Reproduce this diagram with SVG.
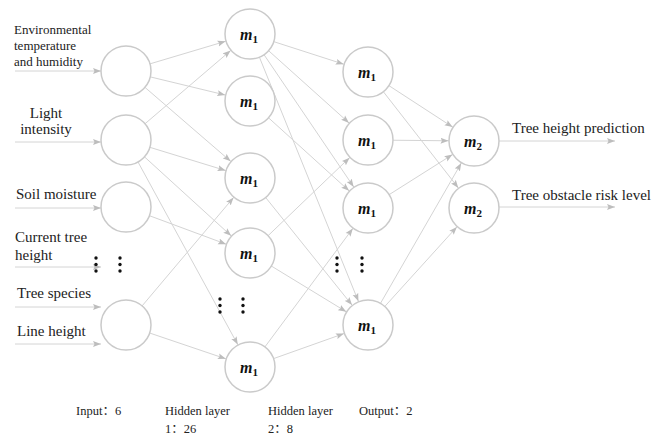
<svg xmlns="http://www.w3.org/2000/svg" width="653" height="436" viewBox="0 0 653 436">
<style>
.edge{stroke:#d4d4d4;stroke-width:1;fill:none;marker-end:url(#ah)}
.inarr{stroke:#d4d4d4;stroke-width:1;fill:none;marker-end:url(#ah0)}
.node{fill:#fff;stroke:#cacaca;stroke-width:1.5}
.lbl{font-family:"Liberation Serif","Noto Sans CJK SC",serif;font-size:15px;fill:#222}
.lbl13{font-family:"Liberation Serif","Noto Sans CJK SC",serif;font-size:13px;fill:#222}
.bot{font-family:"Liberation Serif","Noto Sans CJK SC",serif;font-size:12.5px;fill:#222}
.m{font-family:"Liberation Serif",serif;font-size:16px;font-weight:bold;font-style:italic;fill:#111}
.sub{font-size:11px;font-style:normal}
.dot{fill:#111}
</style>
<defs>
<marker id="ah" markerUnits="userSpaceOnUse" markerWidth="8" markerHeight="7" viewBox="0 0 8 7" refX="33.5" refY="3.5" orient="auto"><path d="M0,0.5 L8,3.5 L0,6.5 L1.5,3.5 z" fill="#bdbdbd"/></marker>
<marker id="ah0" markerUnits="userSpaceOnUse" markerWidth="8" markerHeight="7" viewBox="0 0 8 7" refX="8" refY="3.5" orient="auto"><path d="M0,0.5 L8,3.5 L0,6.5 L1.5,3.5 z" fill="#bdbdbd"/></marker>
</defs>
<g id="connectors">
<line class="inarr" x1="15" y1="71" x2="101" y2="71"/>
<line class="inarr" x1="15" y1="142" x2="101" y2="142"/>
<line class="inarr" x1="15" y1="208" x2="101" y2="208"/>
<line class="inarr" x1="15" y1="267" x2="101" y2="267"/>
<line class="inarr" x1="15" y1="307" x2="101" y2="307"/>
<line class="inarr" x1="15" y1="344" x2="101" y2="344"/>
<line class="edge" x1="126" y1="71" x2="250" y2="34"/>
<line class="edge" x1="126" y1="71" x2="250" y2="101"/>
<line class="edge" x1="126" y1="71" x2="250" y2="178"/>
<line class="edge" x1="126" y1="140" x2="250" y2="34"/>
<line class="edge" x1="126" y1="140" x2="250" y2="178"/>
<line class="edge" x1="126" y1="140" x2="250" y2="253"/>
<line class="edge" x1="126" y1="140" x2="250" y2="367"/>
<line class="edge" x1="126" y1="207" x2="250" y2="253"/>
<line class="edge" x1="126" y1="325" x2="250" y2="178"/>
<line class="edge" x1="126" y1="325" x2="250" y2="367"/>
<line class="edge" x1="250" y1="34" x2="368" y2="72"/>
<line class="edge" x1="250" y1="34" x2="368" y2="140"/>
<line class="edge" x1="250" y1="34" x2="368" y2="208"/>
<line class="edge" x1="250" y1="34" x2="368" y2="325"/>
<line class="edge" x1="250" y1="101" x2="368" y2="208"/>
<line class="edge" x1="250" y1="178" x2="368" y2="325"/>
<line class="edge" x1="250" y1="253" x2="368" y2="140"/>
<line class="edge" x1="250" y1="253" x2="368" y2="325"/>
<line class="edge" x1="250" y1="367" x2="368" y2="208"/>
<line class="edge" x1="250" y1="367" x2="368" y2="325"/>
<line class="edge" x1="368" y1="72" x2="474" y2="141"/>
<line class="edge" x1="368" y1="72" x2="474" y2="208"/>
<line class="edge" x1="368" y1="140" x2="474" y2="141"/>
<line class="edge" x1="368" y1="208" x2="474" y2="141"/>
<line class="edge" x1="368" y1="325" x2="474" y2="141"/>
<line class="edge" x1="368" y1="325" x2="474" y2="208"/>
<line class="inarr" x1="499" y1="141" x2="615" y2="141"/>
<line class="inarr" x1="499" y1="207" x2="615" y2="207"/>
</g>
<g id="in1"><circle class="node" cx="126" cy="71" r="25"/></g>
<g id="in2"><circle class="node" cx="126" cy="140" r="25"/></g>
<g id="in3"><circle class="node" cx="126" cy="207" r="25"/></g>
<g id="in4"><circle class="node" cx="126" cy="325" r="25"/></g>
<g id="h1a"><circle class="node" cx="250" cy="34" r="25"/><text class="m" x="249" y="40" text-anchor="middle">m<tspan class="sub" dy="3">1</tspan></text></g>
<g id="h1b"><circle class="node" cx="250" cy="101" r="25"/><text class="m" x="249" y="107" text-anchor="middle">m<tspan class="sub" dy="3">1</tspan></text></g>
<g id="h1c"><circle class="node" cx="250" cy="178" r="25"/><text class="m" x="249" y="184" text-anchor="middle">m<tspan class="sub" dy="3">1</tspan></text></g>
<g id="h1d"><circle class="node" cx="250" cy="253" r="25"/><text class="m" x="249" y="259" text-anchor="middle">m<tspan class="sub" dy="3">1</tspan></text></g>
<g id="h1e"><circle class="node" cx="250" cy="367" r="25"/><text class="m" x="249" y="373" text-anchor="middle">m<tspan class="sub" dy="3">1</tspan></text></g>
<g id="h2a"><circle class="node" cx="368" cy="72" r="25"/><text class="m" x="367" y="78" text-anchor="middle">m<tspan class="sub" dy="3">1</tspan></text></g>
<g id="h2b"><circle class="node" cx="368" cy="140" r="25"/><text class="m" x="367" y="146" text-anchor="middle">m<tspan class="sub" dy="3">1</tspan></text></g>
<g id="h2c"><circle class="node" cx="368" cy="208" r="25"/><text class="m" x="367" y="214" text-anchor="middle">m<tspan class="sub" dy="3">1</tspan></text></g>
<g id="h2d"><circle class="node" cx="368" cy="325" r="25"/><text class="m" x="367" y="331" text-anchor="middle">m<tspan class="sub" dy="3">1</tspan></text></g>
<g id="o1"><circle class="node" cx="474" cy="141" r="25"/><text class="m" x="473" y="147" text-anchor="middle">m<tspan class="sub" dy="3">2</tspan></text></g>
<g id="o2"><circle class="node" cx="474" cy="208" r="25"/><text class="m" x="473" y="214" text-anchor="middle">m<tspan class="sub" dy="3">2</tspan></text></g>
<g id="dots">
<circle class="dot" cx="96" cy="258" r="1.7"/><circle class="dot" cx="96" cy="264.5" r="1.7"/><circle class="dot" cx="96" cy="271" r="1.7"/>
<circle class="dot" cx="120" cy="258" r="1.7"/><circle class="dot" cx="120" cy="264.5" r="1.7"/><circle class="dot" cx="120" cy="271" r="1.7"/>
<circle class="dot" cx="220" cy="299" r="1.7"/><circle class="dot" cx="220" cy="305.5" r="1.7"/><circle class="dot" cx="220" cy="312" r="1.7"/>
<circle class="dot" cx="243" cy="299" r="1.7"/><circle class="dot" cx="243" cy="305.5" r="1.7"/><circle class="dot" cx="243" cy="312" r="1.7"/>
<circle class="dot" cx="337" cy="258" r="1.7"/><circle class="dot" cx="337" cy="264.5" r="1.7"/><circle class="dot" cx="337" cy="271" r="1.7"/>
<circle class="dot" cx="362" cy="258" r="1.7"/><circle class="dot" cx="362" cy="264.5" r="1.7"/><circle class="dot" cx="362" cy="271" r="1.7"/>
</g>
<g id="labels">
<text class="lbl13" x="14" y="34">Environmental</text>
<text class="lbl13" x="14" y="50">temperature</text>
<text class="lbl13" x="14" y="66">and humidity</text>
<text class="lbl" x="46" y="118" text-anchor="middle">Light</text>
<text class="lbl" x="46" y="134" text-anchor="middle">intensity</text>
<text class="lbl" x="16" y="199">Soil moisture</text>
<text class="lbl" x="15" y="242">Current tree</text>
<text class="lbl" x="15" y="260">height</text>
<text class="lbl" x="17" y="298">Tree species</text>
<text class="lbl" x="17" y="336">Line height</text>
<text class="lbl" x="512" y="133">Tree height prediction</text>
<text class="lbl" x="512" y="200">Tree obstacle risk level</text>
<text class="bot" x="76" y="415">Input：6</text>
<text class="bot" x="165" y="415">Hidden layer</text>
<text class="bot" x="165" y="433">1：26</text>
<text class="bot" x="268" y="415">Hidden layer</text>
<text class="bot" x="268" y="433">2：8</text>
<text class="bot" x="359" y="415">Output：2</text>
</g>
</svg>
